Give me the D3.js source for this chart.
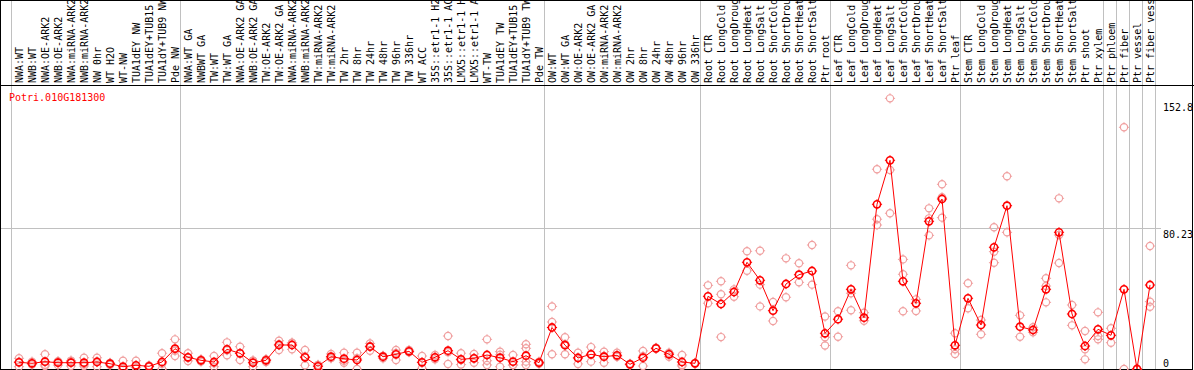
<!DOCTYPE html>
<html>
<head>
<meta charset="utf-8">
<script src="https://cdn.jsdelivr.net/npm/d3@7"></script>
<style>
  html, body { margin: 0; padding: 0; background: #fff; }
  svg { display: block; }
  text { font-family: 'DejaVu Sans Mono', monospace; font-size: 10px; }
</style>
</head>
<body>
<div id="chrt"></div>
<script>
// gene title shown in the top-left of the plot
const geneId = 'Potri.010G181300';

// sample labels, left to right
const sampleLabels = [
  'NWA:WT', 'NWB:WT', 'NWA:OE-ARK2', 'NWB:OE-ARK2', 'NWA:miRNA-ARK2', 'NWB:miRNA-ARK2', 'NW 0hr', 'WT H2O', 'WT-NW',
  'TUA1dEY NW', 'TUA1dEY+TUB15', 'TUA1dY+TUB9 NW', 'Pde NW',
  'NWA:WT GA', 'NWBWT GA', 'TW:WT', 'TW:WT GA', 'NWA:OE-ARK2 GA', 'NWB:OE-ARK2 GA', 'TW:OE-ARK2', 'TW:OE-ARK2 GA',
  'NWA:miRNA-ARK2', 'NWB:miRNA-ARK2', 'TW:miRNA-ARK2', 'TW:miRNA-ARK2', 'TW 2hr', 'TW 8hr', 'TW 24hr', 'TW 48hr',
  'TW 96hr', 'TW 336hr', 'WT ACC', '35S::etr1-1 H2O', '35S::etr1-1 ACC', 'LMX5::etr1-1 H2O', 'LMX5::etr1-1 ACC', 'WT-TW',
  'TUA1dEY TW', 'TUA1dEY+TUB15', 'TUA1dY+TUB9 TW', 'Pde TW',
  'OW:WT', 'OW:WT GA', 'OW:OE-ARK2', 'OW:OE-ARK2 GA', 'OW:miRNA-ARK2', 'OW:miRNA-ARK2', 'OW 2hr', 'OW 8hr', 'OW 24hr',
  'OW 48hr', 'OW 96hr', 'OW 336hr',
  'Root CTR', 'Root LongCold', 'Root LongDrought', 'Root LongHeat', 'Root LongSalt', 'Root ShortCold', 'Root ShortDrought',
  'Root ShortHeat', 'Root ShortSalt', 'Ptr root',
  'Leaf CTR', 'Leaf LongCold', 'Leaf LongDrought', 'Leaf LongHeat', 'Leaf LongSalt', 'Leaf ShortCold', 'Leaf ShortDrought',
  'Leaf ShortHeat', 'Leaf ShortSalt', 'Ptr leaf',
  'Stem CTR', 'Stem LongCold', 'Stem LongDrought', 'Stem LongHeat', 'Stem LongSalt', 'Stem ShortCold', 'Stem ShortDrought',
  'Stem ShortHeat', 'Stem ShortSalt', 'Ptr shoot', 'Ptr xylem',
  'Ptr phloem', 'Ptr fiber', 'Ptr vessel', 'Ptr fiber vessel'
];

// mean expression per sample (red line)
const meanValues = [
  3.82, 3.25, 4.16, 3.59, 3.59, 3.59, 3.99, 3.02, 1.31, 2.11, 1.54, 3.99, 11.57,
  6.67, 4.96, 3.99, 11.23, 8.95, 3.59, 4.96, 13.68, 13.68, 6.67, 1.54, 7.01, 5.87, 5.13, 12.71,
  7.01, 8.38, 10.09, 3.82, 6.67, 10.43, 5.53, 6.10, 7.98, 6.44, 4.16, 7.58, 3.59,
  23.66, 13.57, 6.27, 8.38, 7.01, 7.81, 2.68, 6.44, 11.80, 8.38, 3.99, 3.25,
  41.45, 37.06, 43.90, 60.83, 50.57, 33.24, 48.46, 53.76, 55.87, 20.35,
  28.39, 45.44, 29.25, 93.90, 118.99, 50.00, 37.46, 84.21, 96.93, 13.51,
  40.31, 25.09, 69.39, 93.11, 24.12, 22.24, 45.44, 77.94, 31.36, 13.11, 22.63,
  19.21, 45.44, 0, 47.89
];

// single replicates per sample (pink circles)
const replicateValues = [
  [6.1, 1.3, 4.1], [4.2, 2.5, 3.0], [8.4, 1.7, 2.4], [4.5, 2.2, 4.0], [1.7, 4.8, 4.3], [6.4, 1.7, 2.7],
  [6.4, 1.3, 4.3], [3.5, 2.3, 3.3], [4.7, 0, 0], [4.7, 0.8, 0.8], [2.0, 1.2, 1.4], [9.0, 0, 3.0], [16.9, 7.4, 10.4],
  [9.0, 4.6, 6.4], [5.5, 4.2, 5.2], [7.4, 1.3, 3.3], [15.2, 7.8, 10.7], [12.7, 5.1, 9.0], [1.3, 4.7, 4.8],
  [5.5, 4.0, 5.4], [16.1, 10.8, 14.1], [11.2, 15.0, 14.8], [10.8, 2.1, 7.1], [0, 2.3, 2.3], [8.6, 6.2, 6.2],
  [9.3, 3.6, 4.7], [9.3, 0, 6.1], [14.6, 10.4, 13.1], [6.1, 7.5, 7.4], [10.8, 5.1, 9.2], [10.8, 9.6, 9.9],
  [7.4, 0.4, 3.7], [8.0, 5.5, 6.5], [18.8, 2.9, 9.6], [9.0, 2.5, 5.1], [8.6, 3.6, 6.1], [16.9, 2.3, 4.7],
  [9.9, 1.3, 8.1], [8.0, 2.3, 2.2], [14.1, 11.8, 4.2, 2.3], [4.2, 3.0, 3.3],
  [35.7, 26.8, 8.4], [18.1, 8.4, 14.2], [9.3, 2.9, 6.6], [12.5, 4.2, 8.4], [9.9, 3.6, 7.5], [9.3, 7.0, 7.2],
  [2.3, 3.0, 2.7], [10.3, 1.7, 7.3], [12.1, 11.5, 11.8], [9.3, 7.0, 8.8], [8.0, 2.3, 1.7], [3.5, 3.0, 3.2],
  [47.7, 37.5], [50.0, 42.6, 18.2], [45.4, 41.2], [67.1, 56.0], [67.4, 48.1, 35.7], [38.2, 27.4],
  [63.1, 40.9], [60.3, 49.4], [70.7, 48.1], [29.9, 18.1, 13.4],
  [32.9, 18.4], [59.1, 43.2, 33.5], [32.1, 27.5], [113.9, 85.4, 82.1], [154.3, 113.5, 88.8], [62.5, 54.0, 32.9],
  [39.7, 33.1], [91.6, 85.9, 76.2], [105.3, 97.9, 86.3], [20.4, 11.2, 8.6],
  [48.9, 34.6], [27.9, 19.8], [80.8, 66.9, 60.6], [109.9, 77.9], [30.6, 18.4], [23.8, 20.9],
  [51.7, 47.3, 38.0], [97.3, 76.4, 60.4], [36.5, 24.9], [21.7, 11.2, 5.5], [32.3, 18.8, 16.9],
  [23.2, 15.0], [137.8, 0], [0, 0], [70.1, 38.4, 35.5]
];

// sample index where a gray separator line is drawn
const groupBreaks = [0, 13, 41, 53, 63, 73, 84, 85, 86, 87, 88];

// right hand y labels (max, grid line, zero)
const yTickValues = [152.8, 80.23, 0];
const gridValue = 80.23;

const width = 1194;
const height = 370;
const plotTop = 85;

const svg = d3.select('#chrt').append('svg')
    .attr('width', width)
    .attr('height', height);

const scaleX = d3.scaleLinear().domain([0, sampleLabels.length]).range([11, 1155]);
const scaleY = d3.scaleLinear().domain([0, 152.8]).range([369, 101]);
const cx = (i) => scaleX(i) + 8;

// group separators, full height
svg.selectAll('.sep')
    .data(groupBreaks)
    .enter().append('line')
    .attr('x1', (d) => Math.round(scaleX(d)) + 0.5)
    .attr('x2', (d) => Math.round(scaleX(d)) + 0.5)
    .attr('y1', 0)
    .attr('y2', height)
    .attr('stroke', '#c0c0c0')
    .attr('stroke-width', 1);

// horizontal grid line
svg.append('line')
    .attr('x1', 0)
    .attr('x2', 1161)
    .attr('y1', Math.round(scaleY(gridValue)) + 0.5)
    .attr('y2', Math.round(scaleY(gridValue)) + 0.5)
    .attr('stroke', '#c0c0c0');

// frame + header separator
svg.append('rect')
    .attr('x', 0.5).attr('y', 0.5)
    .attr('width', width - 2).attr('height', height - 1)
    .attr('fill', 'none')
    .attr('stroke', '#000');
svg.append('line')
    .attr('x1', 0).attr('x2', width)
    .attr('y1', plotTop + 0.5).attr('y2', plotTop + 0.5)
    .attr('stroke', '#000');

// rotated sample labels
svg.selectAll('.lbl')
    .data(sampleLabels)
    .enter().append('text')
    .attr('transform', (d, i) => 'translate(' + (cx(i) + 4) + ',' + (plotTop - 2) + ') rotate(-90)')
    .attr('fill', '#000')
    .text((d) => d);

// y labels on the right
svg.selectAll('.ylbl')
    .data(yTickValues)
    .enter().append('text')
    .attr('x', 1163)
    .attr('y', (d) => Math.min(scaleY(d) + 2, 359) + 8)
    .attr('fill', '#000')
    .text((d) => d);

// gene name
svg.append('text')
    .attr('x', 9)
    .attr('y', 101)
    .attr('fill', '#ff0000')
    .text(geneId);

// small stubs around a circle, like the original pixel markers
function stubPath(x, y, r) {
  return 'M' + x + ',' + (y - r - 1.5) + 'V' + (y - r + 0.5) +
    'M' + x + ',' + (y + r - 0.5) + 'V' + (y + r + 1.5) +
    'M' + (x - r - 1.5) + ',' + y + 'H' + (x - r + 0.5) +
    'M' + (x + r - 0.5) + ',' + y + 'H' + (x + r + 1.5);
}

// replicate points
const repPoints = [];
replicateValues.forEach((reps, i) => {
  reps.forEach((v) => repPoints.push({ i: i, v: v }));
});

const repG = svg.append('g');
repG.selectAll('circle')
    .data(repPoints)
    .enter().append('circle')
    .attr('cx', (d) => cx(d.i))
    .attr('cy', (d) => scaleY(d.v))
    .attr('r', 3.6)
    .attr('fill', 'none')
    .attr('stroke', '#f0a0a0')
    .attr('stroke-width', 1.2);
repG.selectAll('path')
    .data(repPoints)
    .enter().append('path')
    .attr('d', (d) => stubPath(cx(d.i), scaleY(d.v), 3.6))
    .attr('stroke', '#f0a0a0')
    .attr('stroke-width', 1);

// mean line
svg.append('path')
    .datum(meanValues)
    .attr('fill', 'none')
    .attr('stroke', '#ff0000')
    .attr('stroke-width', 1)
    .attr('d', d3.line()
        .x((d, i) => cx(i))
        .y((d) => scaleY(d)));

// mean markers
const meanG = svg.append('g');
meanG.selectAll('circle')
    .data(meanValues)
    .enter().append('circle')
    .attr('cx', (d, i) => cx(i))
    .attr('cy', (d) => scaleY(d))
    .attr('r', 3.6)
    .attr('fill', 'none')
    .attr('stroke', '#ff0000')
    .attr('stroke-width', 1.6);
meanG.selectAll('path')
    .data(meanValues)
    .enter().append('path')
    .attr('d', (d, i) => stubPath(cx(i), scaleY(d), 3.6))
    .attr('stroke', '#ff0000')
    .attr('stroke-width', 1);
</script>
</body>
</html>
